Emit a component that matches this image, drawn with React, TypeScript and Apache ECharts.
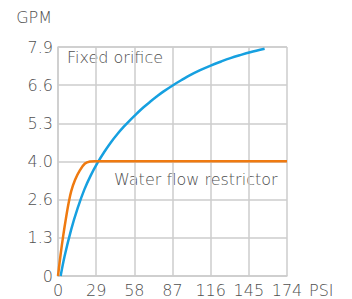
import React, { useEffect, useRef } from "react";
import * as echarts from "echarts";

const yTickLabels = ["0", "1.3", "2.6", "4.0", "5.3", "6.6", "7.9"];
const xTicks = [0, 29, 58, 87, 116, 145, 174];

const fixedOrificePsi = [2, 5, 10, 15, 20, 25, 30, 35, 40, 45, 50, 55, 60, 65, 70, 75, 80, 88, 95, 100, 108, 116, 124, 131, 138, 146, 157];
const fixedOrificeGpm = [0, 0.68, 1.6, 2.35, 2.98, 3.48, 3.9, 4.27, 4.6, 4.89, 5.15, 5.39, 5.61, 5.82, 6.01, 6.19, 6.36, 6.6, 6.79, 6.92, 7.1, 7.26, 7.4, 7.515, 7.615, 7.72, 7.84];

const restrictorPsi = [0, 2, 4, 6, 8, 10, 13, 16.7, 20.5, 24.3, 28, 40, 60, 174];
const restrictorGpm = [0, 0.75, 1.4, 1.98, 2.5, 2.92, 3.32, 3.65, 3.88, 3.95, 3.96, 3.96, 3.96, 3.96];

const FONT = "DejaVu Sans";
const TEXT = "#4f4f4f";
const GRID = "#cccccc";

export default function App() {
  const ref = useRef<HTMLDivElement>(null);
  useEffect(() => {
    if (!ref.current) return;
    const chart = echarts.init(ref.current, undefined, { renderer: "svg" });
    const yMax = 7.9;
    const yStep = yMax / 6;
    const txt = { fontSize: 16, color: TEXT, fontFamily: FONT, fontWeight: 200 as any };
    chart.setOption({
      animation: false,
      textStyle: { fontFamily: FONT },
      grid: { left: 58, right: 65, top: 47, bottom: 23, containLabel: false },
      xAxis: {
        type: "value",
        min: 0,
        max: 174,
        interval: 29,
        name: "PSI",
        nameLocation: "end",
        nameGap: 22,
        nameTextStyle: { ...txt, verticalAlign: "top", align: "left", padding: [6, 0, 0, 0] },
        axisLine: { show: true, lineStyle: { color: GRID, width: 1.5 } },
        axisTick: { show: false },
        axisLabel: { ...txt, margin: 6, formatter: (v: number) => String(xTicks[Math.round(v / 29)] ?? v) },
        splitLine: { show: true, lineStyle: { color: GRID, width: 1.5 } },
      },
      yAxis: {
        type: "value",
        min: 0,
        max: yMax,
        interval: yStep,
        name: "GPM",
        nameLocation: "end",
        nameGap: 22,
        nameTextStyle: { ...txt, align: "right", padding: [0, 6, 0, 0] },
        axisLine: { show: true, lineStyle: { color: GRID, width: 1.5 } },
        axisTick: { show: false },
        axisLabel: { ...txt, margin: 5, formatter: (v: number) => yTickLabels[Math.round(v / yStep)] ?? "" },
        splitLine: { show: true, lineStyle: { color: GRID, width: 1.5 } },
      },
      series: [
        {
          type: "line",
          name: "Fixed orifice",
          data: fixedOrificePsi.map((p, i) => [p, fixedOrificeGpm[i]]),
          smooth: 0.35,
          showSymbol: false,
          lineStyle: { color: "#16a0e0", width: 2.5 },
        },
        {
          type: "line",
          name: "Water flow restrictor",
          data: restrictorPsi.map((p, i) => [p, restrictorGpm[i]]),
          smooth: 0.35,
          showSymbol: false,
          lineStyle: { color: "#ef7a10", width: 2.5 },
        },
      ],
      graphic: [
        { type: "text", left: 67, top: 49, style: { text: "Fixed orifice", fontSize: 16, fill: TEXT, fontFamily: FONT, fontWeight: 200 } },
        { type: "text", left: 114, top: 171, style: { text: "Water flow restrictor", fontSize: 16, fill: TEXT, fontFamily: FONT, fontWeight: 200 } },
      ],
    });
    return () => chart.dispose();
  }, []);
  return <div ref={ref} style={{ width: 352, height: 299, position: "absolute", left: 0, top: 0 }} />;
}
